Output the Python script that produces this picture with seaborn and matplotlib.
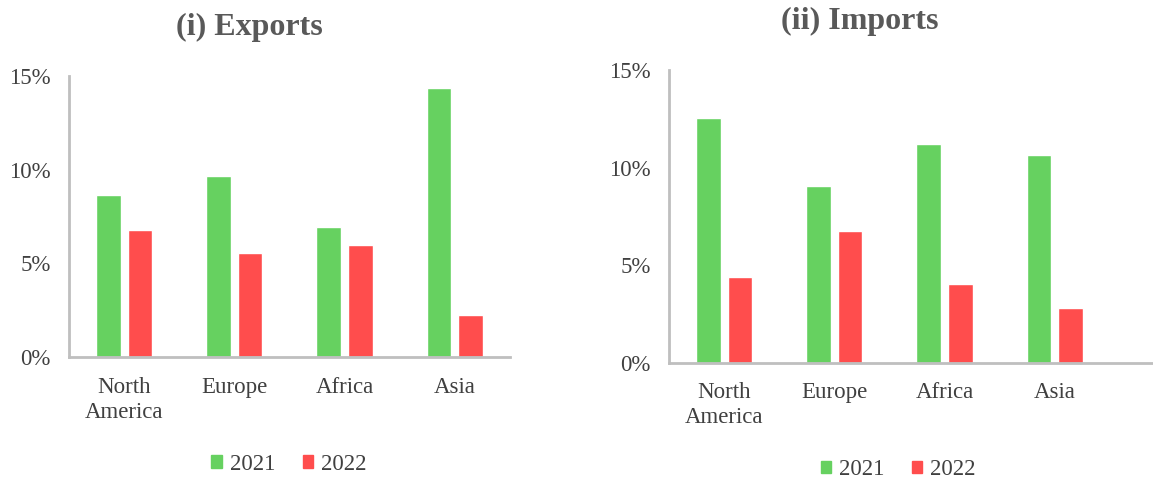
import pandas as pd
import matplotlib.pyplot as plt
import seaborn as sns

# Values (% growth)
regions = ["North\nAmerica", "Europe", "Africa", "Asia"]
years = ["2021", "2022"]
exports_2021 = [8.65, 9.66, 6.94, 14.36]
exports_2022 = [6.80, 5.55, 5.98, 2.24]
imports_2021 = [12.56, 9.05, 11.23, 10.63]
imports_2022 = [4.42, 6.74, 4.03, 2.82]

colors = {"2021": "#66D160", "2022": "#FF4D4D"}
axis_grey = "#BFBFBF"
text_grey = "#404040"

sns.set_style("white")
plt.rcParams["font.family"] = ["Liberation Serif", "DejaVu Serif"]


def make_frame(v21, v22):
    return pd.DataFrame({
        "region": regions * 2,
        "year": [years[0]] * len(regions) + [years[1]] * len(regions),
        "value": list(v21) + list(v22),
    })


fig = plt.figure(figsize=(11.53, 4.8), dpi=100)
ax1 = fig.add_axes([0.0598, 0.256, 0.3825, 0.5854])
ax2 = fig.add_axes([0.5802, 0.2438, 0.4198, 0.6104])

panels = [
    (ax1, make_frame(exports_2021, exports_2022), 3.5),
    (ax2, make_frame(imports_2021, imports_2022), 3.89),
]

for ax, df, xmax in panels:
    sns.barplot(data=df, x="region", y="value", hue="year", palette=colors,
                width=0.573, gap=0.22, ax=ax, legend=False, saturation=1)
    ax.set_ylim(0, 15)
    ax.set_xlim(-0.5, xmax)
    ax.set_yticks([0, 5, 10, 15])
    ax.set_yticklabels(["0%", "5%", "10%", "15%"])
    ax.set_xlabel("")
    ax.set_ylabel("")
    for s in ["top", "right"]:
        ax.spines[s].set_visible(False)
    for s in ["left", "bottom"]:
        ax.spines[s].set_color(axis_grey)
        ax.spines[s].set_linewidth(2)
    ax.tick_params(axis="both", length=0, labelsize=16.5, colors=text_grey)
    ax.tick_params(axis="y", pad=13)
    ax.tick_params(axis="x", pad=14)
    for lbl in ax.get_xticklabels():
        lbl.set_linespacing(1.25)

fig.text(0.2165, 0.942, "(i) Exports", ha="center", va="center",
         fontsize=23, fontweight="bold", color="#595959")
fig.text(0.746, 0.955, "(ii) Imports", ha="center", va="center",
         fontsize=23, fontweight="bold", color="#595959")

handles = [plt.Rectangle((0, 0), 1, 1, color=colors[y]) for y in years]
for ax, cx, cy in [(ax1, 0.2505, 0.033), (ax2, 0.779, 0.021)]:
    fig.legend(handles, years, loc="center", bbox_to_anchor=(cx, cy),
               ncol=2, frameon=False, fontsize=16.5, handlelength=0.45,
               handleheight=0.45, handletextpad=0.35, columnspacing=1.2,
               labelcolor=text_grey)

fig.savefig("out.png", dpi=100)
